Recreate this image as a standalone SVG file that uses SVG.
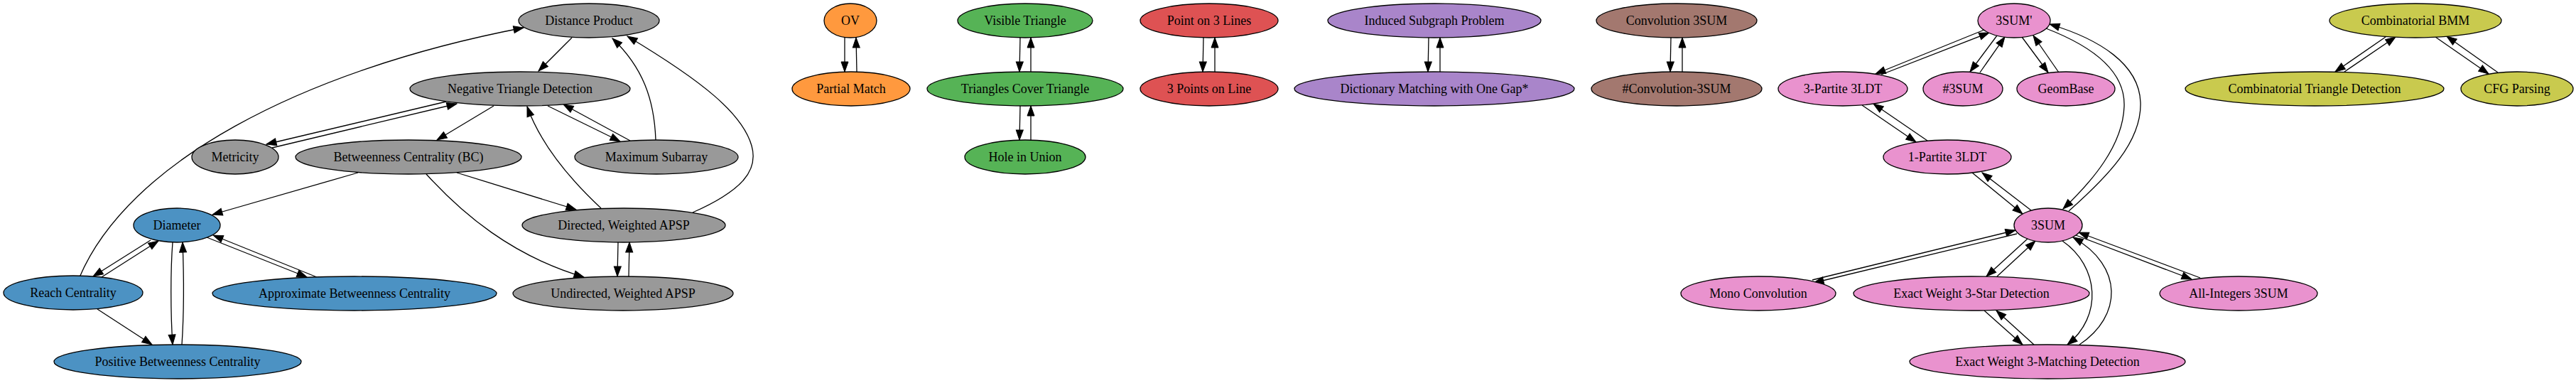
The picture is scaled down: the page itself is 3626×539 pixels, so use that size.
<svg xmlns="http://www.w3.org/2000/svg" width="3626" height="539" viewBox="0 0 3626 539">
<style>
.n ellipse{stroke:#000;stroke-width:1.3}
.n text{font-family:"Liberation Serif","Times New Roman",serif;font-size:18px;text-anchor:middle;fill:#000}
.gray ellipse{fill:#999999}
.blue ellipse{fill:#4c92c3}
.orange ellipse{fill:#ff993e}
.green ellipse{fill:#56b356}
.red ellipse{fill:#de5253}
.purple ellipse{fill:#a985ca}
.brown ellipse{fill:#a3786f}
.pink ellipse{fill:#e992ce}
.olive ellipse{fill:#c9ca4e}
#edges path{fill:none;stroke:#000;stroke-width:1.3;marker-end:url(#a)}
</style>
<defs>
<marker id="a" markerWidth="15" markerHeight="11" refX="14" refY="5" orient="auto" markerUnits="userSpaceOnUse" overflow="visible">
<path d="M0,0 L14,5 L0,10 z" fill="#000" stroke="#000" stroke-width="1"/>
</marker>
</defs>
<rect width="3626" height="539" fill="#fff"/>
<g id="edges">
<path d="M805,53 L758,100"/>
<path d="M112,390 C180,230 420,100 737,39"/>
<path d="M923,197 C921,140 905,95 862,54"/>
<path d="M975,299 C1045,268 1068,240 1058,205 C1045,160 990,115 883,51"/>
<path d="M628,143 L375,203"/>
<path d="M383,208 L643,146"/>
<path d="M695,149 L615,197"/>
<path d="M771,149 L873,199"/>
<path d="M887,198 L793,147"/>
<path d="M846,293 C800,250 760,200 742,150"/>
<path d="M504,243 L299,302"/>
<path d="M643,243 L811,295"/>
<path d="M600,245 C650,300 720,360 822,390"/>
<path d="M870,341 L869,389"/>
<path d="M885,389 L886,341"/>
<path d="M212,338 L131,389"/>
<path d="M143,390 L223,339"/>
<path d="M243,341 C240,380 240,440 243,485"/>
<path d="M256,485 C259,440 259,390 257,341"/>
<path d="M291,334 L432,390"/>
<path d="M446,390 L300,331"/>
<path d="M137,435 L214,485"/>
<path d="M1189,53 L1189,101"/>
<path d="M1206,101 L1205,53"/>
<path d="M1436,53 L1435,101"/>
<path d="M1451,101 L1451,53"/>
<path d="M1436,149 L1435,197"/>
<path d="M1451,197 L1451,149"/>
<path d="M1694,53 L1693,101"/>
<path d="M1710,101 L1710,53"/>
<path d="M2011,53 L2010,101"/>
<path d="M2027,101 L2027,53"/>
<path d="M2352,53 L2351,101"/>
<path d="M2368,101 L2368,53"/>
<path d="M2793,42 L2640,104"/>
<path d="M2648,105 L2800,46"/>
<path d="M2811,50 L2773,101"/>
<path d="M2787,102 L2822,52"/>
<path d="M2846,52 L2883,102"/>
<path d="M2898,102 L2862,50"/>
<path d="M2621,148 L2697,200"/>
<path d="M2713,198 L2637,146"/>
<path d="M2776,243 L2847,301"/>
<path d="M2859,296 L2790,243"/>
<path d="M2880,40 C2945,65 2992,100 2990,150 C2988,205 2945,255 2904,294"/>
<path d="M2912,297 C2965,250 3015,200 3013,144 C3011,90 2955,55 2885,34"/>
<path d="M2551,394 L2837,324"/>
<path d="M2839,329 L2553,398"/>
<path d="M2854,336 L2796,389"/>
<path d="M2811,389 L2865,339"/>
<path d="M2903,339 C2955,375 2960,445 2910,485"/>
<path d="M2927,485 C2987,445 2990,375 2918,334"/>
<path d="M2922,331 L3085,393"/>
<path d="M3097,391 L2926,327"/>
<path d="M2793,437 L2847,485"/>
<path d="M2863,485 L2810,437"/>
<path d="M3358,52 L3287,101"/>
<path d="M3300,101 L3372,52"/>
<path d="M3428,52 L3503,104"/>
<path d="M3516,102 L3444,51"/>
</g>
<g id="dp" class="n gray"><ellipse cx="829" cy="29" rx="99" ry="24"/><text x="829" y="35">Distance Product</text></g>
<g id="ntd" class="n gray"><ellipse cx="732" cy="125" rx="155" ry="24"/><text x="732" y="131">Negative Triangle Detection</text></g>
<g id="met" class="n gray"><ellipse cx="331" cy="221" rx="61" ry="24"/><text x="331" y="227">Metricity</text></g>
<g id="bc" class="n gray"><ellipse cx="575" cy="221" rx="159" ry="24"/><text x="575" y="227">Betweenness Centrality (BC)</text></g>
<g id="ms" class="n gray"><ellipse cx="924" cy="221" rx="115" ry="24"/><text x="924" y="227">Maximum Subarray</text></g>
<g id="dapsp" class="n gray"><ellipse cx="878" cy="317" rx="143" ry="24"/><text x="878" y="323">Directed, Weighted APSP</text></g>
<g id="uapsp" class="n gray"><ellipse cx="877" cy="413" rx="155" ry="24"/><text x="877" y="419">Undirected, Weighted APSP</text></g>
<g id="diam" class="n blue"><ellipse cx="249" cy="317" rx="61" ry="24"/><text x="249" y="323">Diameter</text></g>
<g id="reach" class="n blue"><ellipse cx="103" cy="412" rx="98" ry="24"/><text x="103" y="418">Reach Centrality</text></g>
<g id="abc" class="n blue"><ellipse cx="499" cy="413" rx="200" ry="24"/><text x="499" y="419">Approximate Betweenness Centrality</text></g>
<g id="pbc" class="n blue"><ellipse cx="250" cy="509" rx="174" ry="24"/><text x="250" y="515">Positive Betweenness Centrality</text></g>
<g id="ov" class="n orange"><ellipse cx="1197" cy="29" rx="37" ry="24"/><text x="1197" y="35">OV</text></g>
<g id="pm" class="n orange"><ellipse cx="1198" cy="125" rx="83" ry="24"/><text x="1198" y="131">Partial Match</text></g>
<g id="vt" class="n green"><ellipse cx="1443" cy="29" rx="95" ry="24"/><text x="1443" y="35">Visible Triangle</text></g>
<g id="tct" class="n green"><ellipse cx="1443" cy="125" rx="138" ry="24"/><text x="1443" y="131">Triangles Cover Triangle</text></g>
<g id="hiu" class="n green"><ellipse cx="1443" cy="221" rx="85" ry="24"/><text x="1443" y="227">Hole in Union</text></g>
<g id="p3l" class="n red"><ellipse cx="1702" cy="29" rx="97" ry="24"/><text x="1702" y="35">Point on 3 Lines</text></g>
<g id="pl3" class="n red"><ellipse cx="1702" cy="125" rx="97" ry="24"/><text x="1702" y="131">3 Points on Line</text></g>
<g id="isp" class="n purple"><ellipse cx="2019" cy="29" rx="150" ry="24"/><text x="2019" y="35">Induced Subgraph Problem</text></g>
<g id="dm" class="n purple"><ellipse cx="2019" cy="125" rx="197" ry="24"/><text x="2019" y="131">Dictionary Matching with One Gap*</text></g>
<g id="c3" class="n brown"><ellipse cx="2360" cy="29" rx="113" ry="24"/><text x="2360" y="35">Convolution 3SUM</text></g>
<g id="hc3" class="n brown"><ellipse cx="2360" cy="125" rx="120" ry="24"/><text x="2360" y="131">#Convolution-3SUM</text></g>
<g id="s3p" class="n pink"><ellipse cx="2835" cy="29" rx="51" ry="24"/><text x="2835" y="35">3SUM'</text></g>
<g id="p3" class="n pink"><ellipse cx="2594" cy="125" rx="91" ry="24"/><text x="2594" y="131">3-Partite 3LDT</text></g>
<g id="h3" class="n pink"><ellipse cx="2763" cy="125" rx="56" ry="24"/><text x="2763" y="131">#3SUM</text></g>
<g id="gb" class="n pink"><ellipse cx="2908" cy="125" rx="69" ry="24"/><text x="2908" y="131">GeomBase</text></g>
<g id="p1" class="n pink"><ellipse cx="2741" cy="221" rx="90" ry="24"/><text x="2741" y="227">1-Partite 3LDT</text></g>
<g id="s3" class="n pink"><ellipse cx="2883" cy="317" rx="48" ry="24"/><text x="2883" y="323">3SUM</text></g>
<g id="mono" class="n pink"><ellipse cx="2475" cy="413" rx="109" ry="24"/><text x="2475" y="419">Mono Convolution</text></g>
<g id="star" class="n pink"><ellipse cx="2775" cy="413" rx="166" ry="24"/><text x="2775" y="419">Exact Weight 3-Star Detection</text></g>
<g id="match" class="n pink"><ellipse cx="2882" cy="509" rx="194" ry="24"/><text x="2882" y="515">Exact Weight 3-Matching Detection</text></g>
<g id="ai" class="n pink"><ellipse cx="3151" cy="413" rx="111" ry="24"/><text x="3151" y="419">All-Integers 3SUM</text></g>
<g id="bmm" class="n olive"><ellipse cx="3400" cy="29" rx="121" ry="24"/><text x="3400" y="35">Combinatorial BMM</text></g>
<g id="ctd" class="n olive"><ellipse cx="3258" cy="125" rx="182" ry="24"/><text x="3258" y="131">Combinatorial Triangle Detection</text></g>
<g id="cfg" class="n olive"><ellipse cx="3543" cy="125" rx="79" ry="24"/><text x="3543" y="131">CFG Parsing</text></g>
</svg>
